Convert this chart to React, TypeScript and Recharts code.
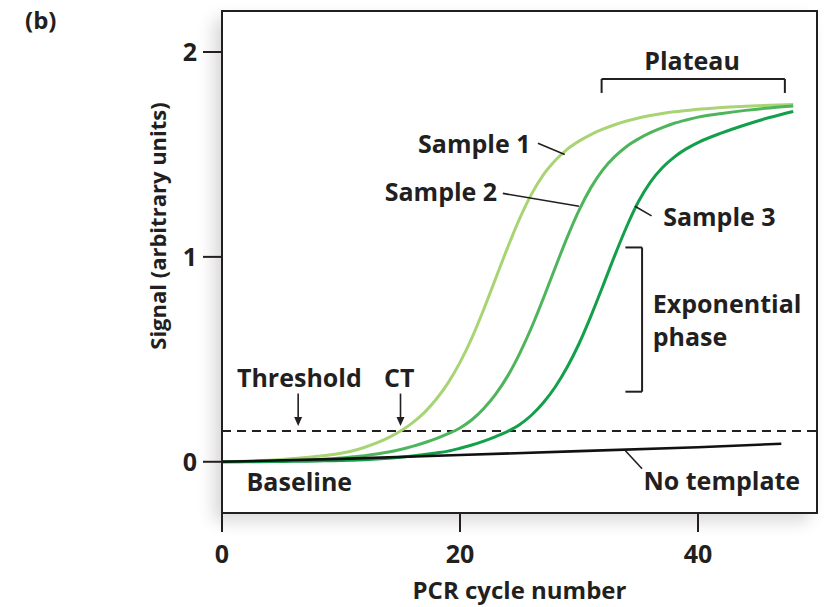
import {
  Line,
  LineChart,
  ReferenceArea,
  ReferenceDot,
  ReferenceLine,
  XAxis,
  YAxis,
} from "recharts";

const cycles = [
  0, 2, 4, 6, 8, 9, 10, 11, 12, 13, 14, 15, 16, 17, 18, 19, 20, 21, 22, 23, 24,
  25, 26, 27, 28, 29, 30, 31, 32, 33, 34, 35, 36, 37, 38, 39, 40, 42, 44, 46, 48,
];

const sample1 = [
  0, 0.003, 0.008, 0.016, 0.027, 0.033, 0.042, 0.054, 0.071, 0.092, 0.118, 0.15,
  0.19, 0.24, 0.305, 0.385, 0.485, 0.605, 0.745, 0.895, 1.045, 1.185, 1.305, 1.4,
  1.47, 1.525, 1.565, 1.597, 1.623, 1.645, 1.663, 1.678, 1.69, 1.7, 1.708, 1.714,
  1.72, 1.729, 1.735, 1.74, 1.744,
];

const sample2 = [
  0, 0.001, 0.003, 0.006, 0.01, 0.014, 0.018, 0.024, 0.03, 0.038, 0.048, 0.06,
  0.075, 0.093, 0.113, 0.137, 0.165, 0.205, 0.26, 0.33, 0.418, 0.527, 0.654,
  0.797, 0.947, 1.094, 1.227, 1.338, 1.425, 1.489, 1.539, 1.576, 1.606, 1.631,
  1.652, 1.668, 1.682, 1.7, 1.715, 1.727, 1.736,
];

const sample3 = [
  0, 0, 0.001, 0.002, 0.004, 0.005, 0.006, 0.008, 0.01, 0.013, 0.017, 0.022,
  0.028, 0.035, 0.043, 0.052, 0.066, 0.082, 0.101, 0.123, 0.148, 0.181, 0.227,
  0.288, 0.365, 0.461, 0.576, 0.711, 0.857, 1.006, 1.147, 1.27, 1.365, 1.435,
  1.487, 1.527, 1.558, 1.605, 1.645, 1.68, 1.71,
];

const noTemplateCycles = [0, 10, 20, 30, 40, 47];
const noTemplate = [0, 0.014, 0.033, 0.052, 0.071, 0.088];

const threshold = 0.15;
const xTicks = [0, 20, 40];
const yTicks = [0, 1, 2];

const toRows = (xs: number[], ys: number[]) => xs.map((c, i) => ({ c, v: ys[i] }));

const ink = "#231f20";
const font = "'Open Sans', sans-serif";

function Note({ x, y, text, anchor = "middle", size = 25 }: any) {
  return (
    <ReferenceDot
      x={x}
      y={y}
      r={0}
      shape={(p: any) => (
        <text
          x={p.cx}
          y={p.cy}
          textAnchor={anchor}
          dominantBaseline="central"
          fontFamily={font}
          fontWeight={700}
          fontSize={size}
          fill={ink}
        >
          {text}
        </text>
      )}
    />
  );
}

const seg = (x1: number, y1: number, x2: number, y2: number, w = 2) => (
  <ReferenceLine
    segment={[
      { x: x1, y: y1 },
      { x: x2, y: y2 },
    ]}
    stroke={ink}
    strokeWidth={w}
  />
);

const arrow = (x: number, y1: number, y2: number) => (
  <ReferenceLine
    segment={[
      { x, y: y1 },
      { x, y: y2 },
    ]}
    stroke={ink}
    shape={(p: any) => (
      <g>
        <line x1={p.x1} y1={p.y1} x2={p.x2} y2={p.y2 - 6} stroke={ink} strokeWidth={1.6} />
        <polygon
          points={`${p.x2 - 4},${p.y2 - 9} ${p.x2 + 4},${p.y2 - 9} ${p.x2},${p.y2}`}
          fill={ink}
        />
      </g>
    )}
  />
);

export default function App() {
  return (
    <div style={{ position: "absolute", left: 0, top: 0, width: 831, height: 607, background: "#fff" }}>
      <div
        style={{
          position: "absolute",
          left: 222,
          top: 11,
          width: 595,
          height: 502,
          background: "#fff",
          boxShadow: "-8px 8px 16px rgba(0,0,0,0.16)",
        }}
      />
      <div
        style={{
          position: "absolute",
          left: 25,
          top: 3,
          fontFamily: font,
          fontWeight: 700,
          fontSize: 24,
          color: ink,
        }}
      >
        (b)
      </div>
      <div style={{ position: "absolute", left: 0, top: 0 }}>
        <LineChart width={831} height={607} margin={{ top: 11, right: 14, bottom: 0, left: 0 }}>
          <XAxis
            dataKey="c"
            type="number"
            domain={[0, 50]}
            ticks={xTicks}
            height={94}
            tickSize={19}
            tickMargin={13}
            stroke={ink}
            strokeWidth={2}
            tick={{ fill: ink, fontSize: 25, fontWeight: 700, fontFamily: font }}
            label={{
              value: "PCR cycle number",
              position: "insideBottom",
              offset: 8,
              fill: ink,
              fontSize: 24,
              fontWeight: 700,
              fontFamily: font,
            }}
          />
          <YAxis
            type="number"
            domain={[-0.25, 2.2]}
            ticks={yTicks}
            allowDataOverflow
            width={222}
            tickSize={19}
            tickMargin={6}
            stroke={ink}
            strokeWidth={2}
            tick={{ fill: ink, fontSize: 25, fontWeight: 700, fontFamily: font }}
            label={{
              value: "Signal (arbitrary units)",
              angle: -90,
              position: "center",
              dx: 47,
              dy: -36,
              fill: ink,
              fontSize: 22,
              fontWeight: 700,
              fontFamily: font,
            }}
          />
          <ReferenceArea
            x1={0}
            x2={50}
            y1={-0.25}
            y2={2.2}
            fill="none"
            stroke={ink}
            strokeWidth={2}
            ifOverflow="visible"
          />
          <ReferenceLine y={threshold} stroke={ink} strokeWidth={2} strokeDasharray="9 6" />

          <Line
            data={toRows(cycles, sample1)}
            dataKey="v"
            type="monotone"
            stroke="#a8d474"
            strokeWidth={3}
            dot={false}
            activeDot={false}
            isAnimationActive={false}
          />
          <Line
            data={toRows(cycles, sample2)}
            dataKey="v"
            type="monotone"
            stroke="#4fb55c"
            strokeWidth={3}
            dot={false}
            activeDot={false}
            isAnimationActive={false}
          />
          <Line
            data={toRows(cycles, sample3)}
            dataKey="v"
            type="monotone"
            stroke="#14a04b"
            strokeWidth={3}
            dot={false}
            activeDot={false}
            isAnimationActive={false}
          />
          <Line
            data={toRows(noTemplateCycles, noTemplate)}
            dataKey="v"
            type="linear"
            stroke="#111"
            strokeWidth={2.6}
            dot={false}
            activeDot={false}
            isAnimationActive={false}
          />

          {/* leader lines */}
          {seg(26.55, 1.555, 28.8, 1.5, 1.6)}
          {seg(23.6, 1.31, 30.0, 1.247, 1.6)}
          {seg(34.7, 1.247, 36.1, 1.2, 1.6)}
          {seg(33.9, 0.054, 35.3, -0.034, 1.6)}

          {/* plateau bracket */}
          {seg(31.9, 1.868, 47.3, 1.868)}
          {seg(31.9, 1.868, 31.9, 1.8)}
          {seg(47.3, 1.868, 47.3, 1.8)}

          {/* exponential phase bracket */}
          {seg(35.3, 1.046, 35.3, 0.342)}
          {seg(33.9, 1.046, 35.3, 1.046)}
          {seg(33.9, 0.342, 35.3, 0.342)}

          {arrow(6.4, 0.333, 0.175)}
          {arrow(15.0, 0.333, 0.175)}

          <Note x={21.2} y={1.555} text="Sample 1" />
          <Note x={18.4} y={1.32} text="Sample 2" />
          <Note x={41.8} y={1.2} text="Sample 3" />
          <Note x={39.5} y={1.96} text="Plateau" />
          <Note x={36.2} y={0.773} text="Exponential" anchor="start" />
          <Note x={36.2} y={0.616} text="phase" anchor="start" />
          <Note x={6.5} y={0.416} text="Threshold" />
          <Note x={14.9} y={0.416} text="CT" />
          <Note x={6.5} y={-0.093} text="Baseline" />
          <Note x={42.0} y={-0.088} text="No template" />
        </LineChart>
      </div>
    </div>
  );
}
